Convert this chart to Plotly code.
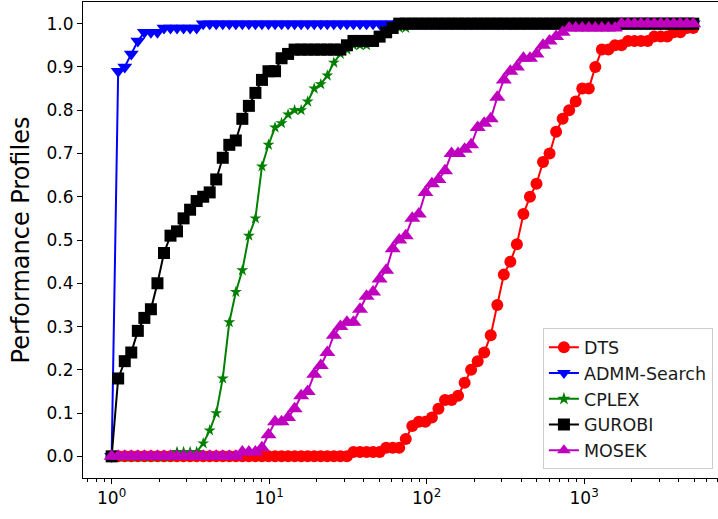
import plotly.graph_objects as go

# Shared tau grid (performance ratio)
TAU = [
    1.000, 1.100, 1.211, 1.332, 1.466, 1.613, 1.775, 1.953, 2.149, 2.364,
    2.600, 2.862, 3.148, 3.465, 3.813, 4.192, 4.612, 5.075, 5.585, 6.143,
    6.757, 7.436, 8.181, 9.002, 9.904, 10.90, 11.99, 13.19, 14.51, 15.97,
    17.57, 19.33, 21.27, 23.41, 25.75, 28.34, 31.18, 34.30, 37.74, 41.53,
    45.69, 50.28, 55.32, 60.87, 66.97, 73.69, 81.08, 89.21, 98.16, 108.0,
    118.8, 130.8, 143.9, 158.3, 174.2, 191.6, 210.9, 232.0, 255.3, 280.9,
    309.0, 340.0, 374.1, 411.6, 452.9, 498.3, 548.3, 603.3, 663.8, 730.4,
    803.6, 884.2, 972.9, 1070.5, 1177.8, 1295.9, 1425.9, 1568.9, 1726.3, 1899.4,
    2089.9, 2299.4, 2530.0, 2783.8, 3063.0, 3370.1, 3708.1, 4079.9, 4489.2, 4929.4,
]

DTS = [
    0, 0, 0, 0, 0, 0, 0, 0, 0, 0,
    0, 0, 0, 0, 0, 0, 0, 0, 0, 0,
    0, 0, 0, 0, 0, 0, 0, 0, 0, 0,
    0, 0, 0, 0, 0, 0, 0, 0.01, 0.01, 0.01,
    0.01, 0.01, 0.02, 0.02, 0.02, 0.04, 0.07, 0.08, 0.08, 0.09,
    0.11, 0.13, 0.13, 0.14, 0.17, 0.20, 0.22, 0.24, 0.28, 0.35,
    0.42, 0.45, 0.49, 0.56, 0.60, 0.63, 0.68, 0.70, 0.75, 0.78,
    0.80, 0.82, 0.85, 0.85, 0.90, 0.94, 0.94, 0.95, 0.95, 0.96,
    0.96, 0.96, 0.96, 0.97, 0.97, 0.97, 0.98, 0.98, 0.99, 0.99,
]

ADMM_SEARCH = [
    0, 0.89, 0.90, 0.93, 0.96, 0.98, 0.98, 0.98, 0.99, 0.99,
    0.99, 0.99, 0.99, 0.99, 1, 1, 1, 1, 1, 1,
    1, 1, 1, 1, 1, 1, 1, 1, 1, 1,
    1, 1, 1, 1, 1, 1, 1, 1, 1, 1,
    1, 1, 1, 1, 1, 1, 1, 1, 1, 1,
    1, 1, 1, 1, 1, 1, 1, 1, 1, 1,
    1, 1, 1, 1, 1, 1, 1, 1, 1, 1,
    1, 1, 1, 1, 1, 1, 1, 1, 1, 1,
    1, 1, 1, 1, 1, 1, 1, 1, 1, 1,
]

CPLEX = [
    0, 0, 0, 0, 0, 0, 0, 0, 0, 0,
    0.01, 0.01, 0.01, 0.01, 0.03, 0.06, 0.10, 0.18, 0.31, 0.38,
    0.43, 0.51, 0.55, 0.67, 0.72, 0.76, 0.77, 0.79, 0.80, 0.80,
    0.82, 0.85, 0.86, 0.88, 0.91, 0.93, 0.94, 0.95, 0.95, 0.95,
    0.96, 0.97, 0.98, 0.99, 0.99, 0.99, 1, 1, 1, 1,
    1, 1, 1, 1, 1, 1, 1, 1, 1, 1,
    1, 1, 1, 1, 1, 1, 1, 1, 1, 1,
    1, 1, 1, 1, 1, 1, 1, 1, 1, 1,
    1, 1, 1, 1, 1, 1, 1, 1, 1, 1,
]

GUROBI = [
    0, 0.18, 0.22, 0.24, 0.29, 0.32, 0.34, 0.40, 0.47, 0.51,
    0.52, 0.55, 0.57, 0.59, 0.60, 0.61, 0.64, 0.69, 0.72, 0.73,
    0.78, 0.81, 0.84, 0.87, 0.89, 0.89, 0.92, 0.93, 0.94, 0.94,
    0.94, 0.94, 0.94, 0.94, 0.94, 0.94, 0.95, 0.96, 0.96, 0.96,
    0.96, 0.97, 0.98, 0.99, 1, 1, 1, 1, 1, 1,
    1, 1, 1, 1, 1, 1, 1, 1, 1, 1,
    1, 1, 1, 1, 1, 1, 1, 1, 1, 1,
    1, 1, 1, 1, 1, 1, 1, 1, 1, 1,
    1, 1, 1, 1, 1, 1, 1, 1, 1, 1,
]

MOSEK = [
    0, 0, 0, 0, 0, 0, 0, 0, 0, 0,
    0, 0, 0, 0, 0, 0, 0, 0, 0, 0,
    0.01, 0.01, 0.01, 0.02, 0.05, 0.08, 0.08, 0.09, 0.11, 0.14,
    0.15, 0.19, 0.21, 0.24, 0.28, 0.30, 0.31, 0.31, 0.34, 0.37,
    0.38, 0.41, 0.43, 0.48, 0.50, 0.51, 0.55, 0.56, 0.61, 0.63,
    0.64, 0.66, 0.70, 0.70, 0.71, 0.72, 0.76, 0.77, 0.78, 0.83,
    0.87, 0.89, 0.90, 0.92, 0.92, 0.93, 0.95, 0.96, 0.97, 0.98,
    0.99, 0.99, 0.99, 0.99, 0.99, 0.99, 0.99, 0.99, 1, 1,
    1, 1, 1, 1, 1, 1, 1, 1, 1, 1,
]

# name, values, colour, marker symbol, marker size on plot, marker size in legend
SERIES = [
    ("DTS", DTS, "#ff0000", "circle", 12, 12),
    ("ADMM-Search", ADMM_SEARCH, "#0000ff", "triangle-down", 13, 12),
    ("CPLEX", CPLEX, "#008000", "star", 9, 10),
    ("GUROBI", GUROBI, "#000000", "square", 12, 12),
    ("MOSEK", MOSEK, "#bf00bf", "triangle-up", 14, 12),
]

Y_TICKS = [0.0, 0.1, 0.2, 0.3, 0.4, 0.5, 0.6, 0.7, 0.8, 0.9, 1.0]
X_TICKS = [1, 10, 100, 1000]
X_TICK_TEXT = ["10<sup>0</sup>", "10<sup>1</sup>", "10<sup>2</sup>", "10<sup>3</sup>"]
X_MINOR = [0.7, 0.8, 0.9,
           2, 3, 4, 5, 6, 7, 8, 9,
           20, 30, 40, 50, 60, 70, 80, 90,
           200, 300, 400, 500, 600, 700, 800, 900,
           2000, 3000, 4000, 5000, 6000, 7000]

FONT = "DejaVu Sans"

fig = go.Figure()
for name, vals, color, sym, size, lsize in SERIES:
    fig.add_trace(go.Scatter(
        x=TAU, y=vals, name=name, mode="lines+markers", showlegend=False,
        line=dict(color=color, width=2),
        marker=dict(symbol=sym, size=size, color=color, line=dict(width=0)),
    ))
# legend entries (same styling, legend-sized markers)
for name, vals, color, sym, size, lsize in SERIES:
    fig.add_trace(go.Scatter(
        x=[None], y=[None], name=name, mode="lines+markers", showlegend=True,
        line=dict(color=color, width=2),
        marker=dict(symbol=sym, size=lsize, color=color, line=dict(width=0)),
    ))

fig.update_layout(
    width=718, height=519,
    margin=dict(l=83, r=0, t=2, b=41),
    paper_bgcolor="white", plot_bgcolor="white",
    font=dict(family=FONT, size=17, color="black"),
    showlegend=True,
    legend=dict(
        x=0.992, y=0.018, xanchor="right", yanchor="bottom",
        bgcolor="rgba(255,255,255,0.8)", bordercolor="#cccccc", borderwidth=1,
        font=dict(family=FONT, size=17.5, color="#1a1a1a"),
    ),
)

fig.update_xaxes(
    type="log", range=[-0.182, 3.850],
    tickmode="array", tickvals=X_TICKS, ticktext=X_TICK_TEXT,
    ticks="outside", ticklen=5, tickwidth=1, tickcolor="black",
    showgrid=False, zeroline=False,
    showline=True, linecolor="black", linewidth=1, mirror=True,
    tickfont=dict(family=FONT, size=17, color="black"),
    minor=dict(tickmode="array", tickvals=X_MINOR, ticks="outside",
               ticklen=3, tickwidth=1, tickcolor="black", showgrid=False),
)

fig.update_yaxes(
    range=[-0.05, 1.05],
    tickmode="array", tickvals=Y_TICKS, tickformat=".1f",
    ticks="outside", ticklen=5, tickwidth=1, tickcolor="black",
    showgrid=False, zeroline=False,
    showline=True, linecolor="black", linewidth=1, mirror=False,
    tickfont=dict(family=FONT, size=17, color="black"),
    title=dict(text="Performance Profiles", font=dict(family=FONT, size=24, color="black"), standoff=10),
)

fig.write_html("out.html")
